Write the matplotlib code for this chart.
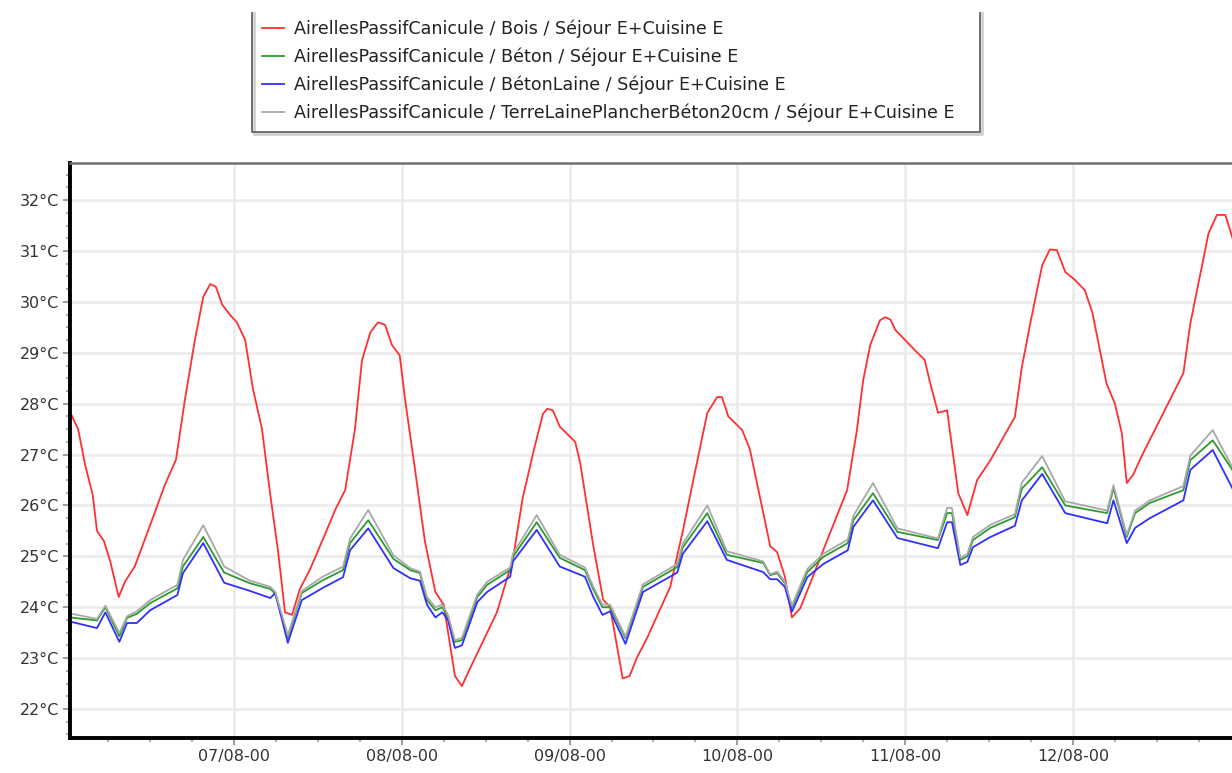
import numpy as np
import matplotlib
matplotlib.use('Agg')
import matplotlib.pyplot as plt
from matplotlib.lines import Line2D
from matplotlib.ticker import MultipleLocator, FixedLocator

# hours counted from 06/08 00:00
bois_t = [0.5, 1.7, 2.7, 3.8, 4.4, 5.4, 6.3, 7.5, 8.4, 9.8, 11.7, 14.1, 15.7, 17.0, 18.4,
          19.6, 20.6, 21.4, 22.3, 23.4, 24.4, 25.6, 26.7, 28.0, 29.1, 30.3, 31.3, 32.3,
          33.4, 34.9, 36.6, 38.6, 39.9, 41.3, 42.3, 43.5, 44.6, 45.6, 46.6, 47.7, 48.5,
          49.9, 51.3, 52.8, 54.0, 55.6, 56.6, 57.6, 61.6, 63.9, 65.3, 67.0, 68.2, 68.8,
          69.6, 70.6, 72.8, 73.5, 75.4, 76.8, 77.8, 79.6, 80.6, 81.6, 83.1, 86.4, 88.2,
          89.7, 91.7, 93.1, 93.8, 94.7, 96.7, 97.8, 100.7, 101.7, 102.8, 103.8, 105.0,
          106.8, 108.8, 111.7, 113.1, 114.0, 115.0, 116.4, 117.2, 117.9, 118.6, 120.0,
          121.4, 122.8, 123.5, 124.7, 126.0, 127.6, 128.9, 130.3, 132.2, 135.7, 136.7,
          137.9, 139.6, 140.7, 141.7, 142.9, 144.3, 145.7, 146.8, 148.8, 150.0, 151.0,
          151.7, 152.6, 153.9, 159.8, 160.8, 163.4, 164.6, 165.8, 166.8, 167.8]
bois = [27.85, 27.5, 26.8, 26.2, 25.5, 25.3, 24.9, 24.2, 24.5, 24.8, 25.5, 26.4, 26.9, 28.1, 29.25,
        30.1, 30.35, 30.3, 29.95, 29.75, 29.6, 29.25, 28.3, 27.5, 26.3, 25.1, 23.9, 23.85,
        24.35, 24.75, 25.3, 25.95, 26.3, 27.5, 28.85, 29.4, 29.6, 29.55, 29.15, 28.95, 28.05,
        26.7, 25.3, 24.3, 24.05, 22.65, 22.45, 22.75, 23.9, 24.95, 26.15, 27.15, 27.8, 27.9,
        27.87, 27.55, 27.25, 26.85, 25.2, 24.15, 24.0, 22.6, 22.65, 23.0, 23.4, 24.4, 25.5,
        26.5, 27.82, 28.13, 28.13, 27.75, 27.48, 27.1, 25.2, 25.08, 24.6, 23.8, 23.98,
        24.6, 25.3, 26.3, 27.48, 28.46, 29.15, 29.64, 29.7, 29.65, 29.45, 29.25,
        29.05, 28.86, 28.45, 27.82, 27.87, 26.24, 25.81, 26.5, 26.89, 27.74, 28.72,
        29.58, 30.72, 31.03, 31.02, 30.59, 30.43, 30.23, 29.78, 28.4, 28.0, 27.42,
        26.44, 26.6, 26.99, 28.6, 29.58, 31.35, 31.71, 31.71, 31.27, 30.7]

beton_t = [0.5, 4.4, 5.6, 7.6, 8.7, 10.1, 12.0, 15.9, 16.7, 19.6, 22.6, 26.3, 29.2, 29.9,
           31.7, 33.7, 36.7, 39.6, 40.6, 43.2, 46.8, 49.2, 50.6, 51.6, 52.8, 53.8, 54.6,
           55.6, 56.6, 58.8, 60.2, 63.5, 63.9, 67.3, 70.6, 74.2, 75.4, 76.7, 77.8, 80.0,
           82.5, 87.4, 88.2, 91.7, 94.5, 99.7, 100.7, 101.7, 102.8, 103.8, 106.0, 108.3,
           111.8, 112.6, 115.4, 118.9, 124.7, 126.0, 126.7, 127.9, 128.9, 129.7, 132.2,
           135.7, 136.7, 139.6, 142.9, 148.9, 149.8, 151.7, 152.9, 155.0, 159.8, 160.8,
           164.0, 166.8]
beton = [23.8, 23.74, 24.0, 23.43, 23.79, 23.87, 24.08, 24.37, 24.8, 25.38, 24.68, 24.47, 24.36, 24.26,
         23.41, 24.28, 24.53, 24.73, 25.26, 25.71, 24.95, 24.73, 24.67, 24.14, 23.94, 24.0, 23.81,
         23.32, 23.35, 24.2, 24.44, 24.73, 24.99, 25.67, 24.97, 24.73, 24.35, 24.0, 24.0, 23.39,
         24.4, 24.79, 25.18, 25.85, 25.03, 24.87, 24.63, 24.67, 24.47, 24.0, 24.69, 24.99,
         25.26, 25.71, 26.24, 25.48, 25.32, 25.85, 25.85, 24.93, 25.0, 25.32, 25.56,
         25.77, 26.33, 26.75, 26.0, 25.85, 26.34, 25.38, 25.85, 26.05, 26.3, 26.89,
         27.28, 26.7]
beton_laine = [23.72, 23.59, 23.9, 23.32, 23.69, 23.69, 23.94, 24.24, 24.67, 25.26, 24.48, 24.32, 24.18, 24.28,
               23.3, 24.14, 24.38, 24.59, 25.12, 25.55, 24.77, 24.57, 24.52, 24.05, 23.8, 23.9, 23.75,
               23.2, 23.25, 24.1, 24.3, 24.6, 24.9, 25.52, 24.8, 24.6, 24.2, 23.85, 23.92, 23.28,
               24.3, 24.68, 25.05, 25.69, 24.93, 24.69, 24.55, 24.55, 24.4, 23.91, 24.59, 24.85,
               25.12, 25.58, 26.1, 25.36, 25.16, 25.67, 25.67, 24.83, 24.89, 25.18, 25.38,
               25.6, 26.1, 26.62, 25.85, 25.65, 26.1, 25.26, 25.56, 25.75, 26.1, 26.7,
               27.09, 26.34]
terre = [23.88, 23.77, 24.03, 23.49, 23.82, 23.92, 24.14, 24.44, 24.93, 25.61, 24.8, 24.52, 24.4, 24.3,
         23.45, 24.32, 24.6, 24.8, 25.35, 25.91, 25.02, 24.77, 24.7, 24.2, 24.0, 24.05, 23.85,
         23.35, 23.4, 24.25, 24.5, 24.78, 25.05, 25.81, 25.03, 24.78, 24.4, 24.05, 24.05, 23.42,
         24.45, 24.85, 25.25, 26.0, 25.1, 24.9, 24.65, 24.7, 24.5, 24.03, 24.75, 25.05,
         25.33, 25.8, 26.44, 25.55, 25.35, 25.95, 25.95, 24.97, 25.05, 25.38, 25.62,
         25.83, 26.45, 26.97, 26.08, 25.9, 26.4, 25.42, 25.9, 26.1, 26.38, 26.98,
         27.48, 26.75]

labels = ['AirellesPassifCanicule / Bois / Séjour E+Cuisine E',
          'AirellesPassifCanicule / Béton / Séjour E+Cuisine E',
          'AirellesPassifCanicule / BétonLaine / Séjour E+Cuisine E',
          'AirellesPassifCanicule / TerreLainePlancherBéton20cm / Séjour E+Cuisine E']
colors = ['#ff3030', '#2e9a2e', '#2f2fff', '#a8a8a8']

day_ticks = [24, 48, 72, 96, 120, 144]
day_labels = ['07/08-00', '08/08-00', '09/08-00', '10/08-00', '11/08-00', '12/08-00']
temp_ticks = [22, 23, 24, 25, 26, 27, 28, 29, 30, 31, 32]

W, H = 1232, 773
fig = plt.figure(figsize=(W / 100, H / 100), dpi=100)
ax = fig.add_axes([70 / W, (H - 738) / H, 1170 / W, (738 - 163) / H])

lines = []
lines += ax.plot(bois_t, bois, color=colors[0], lw=1.3)
lines += ax.plot(beton_t, beton, color=colors[1], lw=1.3)
lines += ax.plot(beton_t, beton_laine, color=colors[2], lw=1.3)
lines += ax.plot(beton_t, terre, color=colors[3], lw=1.3)

ax.set_xlim(0.54, 167.9)
ax.set_ylim(21.43, 32.73)

ax.xaxis.set_major_locator(FixedLocator(day_ticks))
ax.set_xticklabels(day_labels)
ax.xaxis.set_minor_locator(MultipleLocator(6))
ax.yaxis.set_major_locator(FixedLocator(temp_ticks))
ax.set_yticklabels(['{}°C'.format(t) for t in temp_ticks])
ax.yaxis.set_minor_locator(MultipleLocator(0.25))

ax.grid(True, which='major', color='#ebebeb', lw=1.8)
ax.set_axisbelow(True)
ax.tick_params(which='major', direction='out', length=5, width=1.5, color='#a0a0a0',
               labelsize=11.5, labelcolor='#333333', pad=3)
ax.tick_params(which='minor', direction='out', length=3, width=1.5, color='#b0b0b0')

for s in ['left', 'bottom']:
    ax.spines[s].set_linewidth(2.8)
    ax.spines[s].set_color('black')
ax.spines['top'].set_linewidth(1.8)
ax.spines['top'].set_color('#707070')
ax.spines['right'].set_visible(False)

# legend box (top edge is cut off in the original)
leg = fig.legend(lines, labels, loc='upper left', bbox_to_anchor=(255 / W, 1 - 13 / H),
                 frameon=False, fontsize=12.6, handlelength=1.25, handletextpad=0.55,
                 labelspacing=0.53, borderaxespad=0)
for txt in leg.get_texts():
    txt.set_color('#222222')
x0, x1, y0, y1 = 252 / W, 980 / W, 1 - 13 / H, 1 - 132 / H
fig.add_artist(Line2D([x0 + 2 / W, x0 + 2 / W, x1 + 2 / W, x1 + 2 / W], [y0, y1 - 2 / H, y1 - 2 / H, y0],
                      color='#d0d0d0', lw=2.0))
fig.add_artist(Line2D([x0, x0, x1, x1], [y0, y1, y1, y0], color='#666666', lw=1.3))

fig.savefig('out.png', dpi=100)
